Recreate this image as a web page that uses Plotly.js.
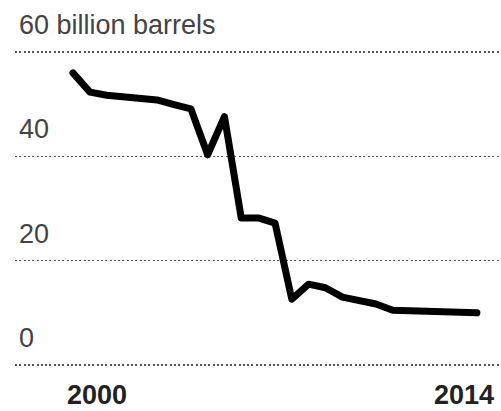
<!DOCTYPE html>
<html>
<head>
<meta charset="utf-8">
<script src="https://cdn.plot.ly/plotly-3.0.1.min.js"></script>
<style>
html, body { margin: 0; padding: 0; background: #fff; }
#chart { width: 501px; height: 411px; }
.scatterlayer .js-line { stroke-linecap: round; stroke-linejoin: round; }
</style>
</head>
<body>
<div id="chart"></div>
<script>
// Years (fractional)
const years = [1999.08, 1999.73, 2000.37, 2001.01, 2001.65, 2002.29, 2002.94, 2003.58,
               2004.22, 2004.86, 2005.50, 2006.15, 2006.79, 2007.43, 2008.07, 2008.71,
               2009.36, 2010.00, 2010.64, 2011.28, 2011.92, 2012.57, 2013.21, 2013.85, 2014.49];
// Reserves, billion barrels
const reserves = [56.0, 52.3, 51.7, 51.3, 51.1, 50.8, 49.9, 49.1,
                  40.3, 47.6, 28.2, 28.2, 27.2, 12.6, 15.5, 14.8,
                  13.0, 12.3, 11.7, 10.5, 10.35, 10.35, 10.2, 10.2, 10.0];
// Axis ticks / labels
const yTicks = [0, 20, 40, 60];
const yTickLabels = ["0", "20", "40", "60 billion barrels"];
const xTicks = [2000, 2014];
const xTickLabels = ["2000", "2014"];

const trace = {
  x: years,
  y: reserves,
  type: 'scatter',
  mode: 'lines',
  line: { color: '#000', width: 7 },
  hoverinfo: 'skip'
};

const annotations = yTicks.map((v, i) => ({
  xref: 'paper', yref: 'y',
  x: 0, y: v,
  xanchor: 'left', yanchor: 'bottom',
  xshift: 2, yshift: 10,
  text: yTickLabels[i],
  showarrow: false,
  font: { family: 'Liberation Sans, Arial, sans-serif', size: 27, color: '#444' }
}));

const layout = {
  width: 501, height: 411,
  margin: { l: 15, r: 0, t: 49, b: 43 },
  paper_bgcolor: '#fff', plot_bgcolor: '#fff',
  showlegend: false,
  xaxis: {
    range: [1996.87, 2015.41],
    tickvals: xTicks, ticktext: xTickLabels,
    showgrid: false, zeroline: false, showline: false, ticks: '',
    ticklabelstandoff: 8,
    tickfont: { family: 'Liberation Sans, Arial, sans-serif', size: 27, color: '#222', weight: 'bold' },
    fixedrange: true
  },
  yaxis: {
    range: [-0.575, 60.575],
    tickvals: yTicks,
    showticklabels: false,
    showgrid: true, gridcolor: '#555', gridwidth: 1.5, griddash: '2px,2.3px',
    zeroline: false, showline: false, ticks: '',
    fixedrange: true
  },
  annotations: annotations
};

Plotly.newPlot('chart', [trace], layout, { staticPlot: true, displayModeBar: false });
</script>
</body>
</html>
